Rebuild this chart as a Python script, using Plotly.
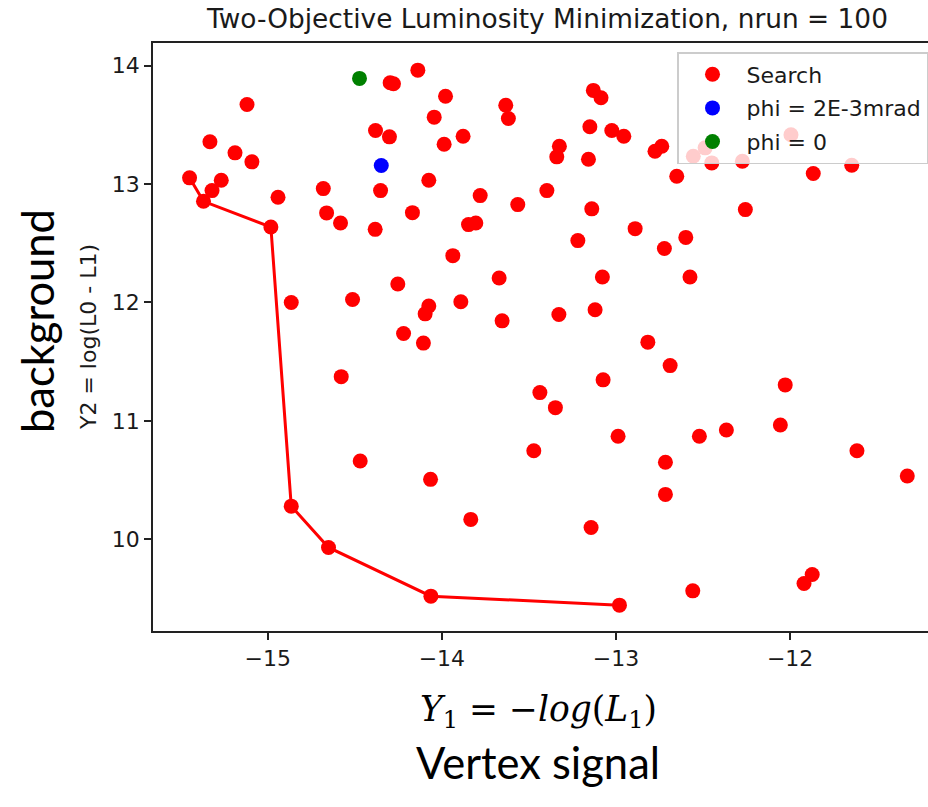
import plotly.graph_objects as go

# ---- data ----
search_x = [-15.119, -15.332, -15.188, -15.091, -15.449, -15.267, -15.320, -15.369, -14.941, -14.681,
            -14.352, -14.075, -14.662, -14.582, -14.383, -14.169, -14.982, -13.937, -14.253, -14.865,
            -14.513, -14.075, -14.096, -14.220, -14.106, -14.578, -14.469, -14.065, -14.865, -13.834,
            -14.651, -14.063, -14.278, -14.297, -14.138, -13.979, -14.044, -14.381, -14.301, -13.987,
            -13.878, -13.633, -13.618, -13.130, -13.086, -13.150, -13.024, -12.955, -13.325, -13.340,
            -13.158, -12.737, -12.776, -12.556, -12.488, -11.995, -12.450, -12.274, -11.867, -11.646,
            -12.651, -13.780, -13.564, -13.397, -13.139, -12.257, -13.847, -13.805, -12.890, -13.219,
            -12.599, -12.722, -13.671, -13.078, -12.575, -13.891, -13.654, -13.328, -13.120, -12.817,
            -12.689, -13.074, -12.028, -13.437, -13.348, -12.988, -12.521, -12.366, -12.056, -13.472,
            -11.616, -11.327, -12.716, -12.716, -12.980, -12.559, -11.920, -11.873, -13.143]
search_y = [13.671, 13.356, 13.263, 13.187, 13.052, 13.031, 12.944, 12.854, 12.888, 12.961,
            12.944, 13.031, 12.756, 12.671, 12.617, 12.758, 12.637, 12.395, 12.156, 12.000,
            12.025, 11.970, 11.904, 11.738, 11.657, 11.374, 10.662, 10.507, 10.281, 10.169,
            9.932, 9.521, 13.846, 13.855, 13.961, 13.741, 13.564, 13.451, 13.398, 13.336,
            13.403, 13.665, 13.553, 13.790, 13.728, 13.483, 13.451, 13.403, 13.319, 13.229,
            13.209, 13.319, 13.276, 13.234, 13.305, 13.415, 13.178, 13.192, 13.088, 13.158,
            13.065, 12.902, 12.826, 12.944, 12.790, 12.784, 12.657, 12.671, 12.623, 12.522,
            12.549, 12.456, 12.206, 12.215, 12.215, 12.006, 11.845, 11.899, 11.938, 11.665,
            11.467, 11.347, 11.304, 11.239, 11.112, 10.871, 10.871, 10.924, 10.966, 10.749,
            10.749, 10.535, 10.651, 10.380, 9.445, 9.566, 9.628, 9.704, 10.101]

pareto_x = [-15.449, -15.369, -14.982, -14.865, -14.651, -14.063, -12.980]
pareto_y = [13.052, 12.854, 12.637, 10.281, 9.932, 9.521, 9.445]

phi_2e3_x = [-14.348]
phi_2e3_y = [13.156]
phi_0_x = [-14.473]
phi_0_y = [13.891]

x_tickvals = [-15, -14, -13, -12]
x_ticktext = ["\u221215", "\u221214", "\u221213", "\u221212"]
y_tickvals = [10, 11, 12, 13, 14]
y_ticktext = ["10", "11", "12", "13", "14"]

W, H = 928, 807
ML, MR, MT, MB = 153, 0, 43, 176
PW, PH = W - ML - MR, H - MT - MB

fig = go.Figure()
fig.add_trace(go.Scatter(x=search_x, y=search_y, mode="markers", name="Search", legendgroup="a",
                         marker=dict(color="#ff0000", size=15, line=dict(width=0))))
fig.add_trace(go.Scatter(x=pareto_x, y=pareto_y, mode="lines", showlegend=False, legendgroup="a",
                         line=dict(color="#ff0000", width=3), hoverinfo="skip"))
fig.add_trace(go.Scatter(x=phi_2e3_x, y=phi_2e3_y, mode="markers", name="phi = 2E-3mrad", legendgroup="b",
                         marker=dict(color="#0000ff", size=15, line=dict(width=0))))
fig.add_trace(go.Scatter(x=phi_0_x, y=phi_0_y, mode="markers", name="phi = 0", legendgroup="c",
                         marker=dict(color="#008000", size=15, line=dict(width=0))))

axis_common = dict(showline=True, linecolor="#222", linewidth=1.6, ticks="outside",
                   ticklen=7, tickwidth=1.6, tickcolor="#222", showgrid=False,
                   zeroline=False, tickfont=dict(family="DejaVu Sans", size=22, color="#1a1a1a"))

fig.update_layout(
    width=W, height=H,
    margin=dict(l=ML, r=MR, t=MT, b=MB, pad=0),
    paper_bgcolor="white", plot_bgcolor="white",
    font=dict(family="DejaVu Sans", color="#1a1a1a"),
    title=dict(text="Two-Objective Luminosity Minimization, nrun = 100",
               font=dict(family="DejaVu Sans", size=26.4, color="#1a1a1a"),
               x=547.5 / W, xref="container", xanchor="center",
               y=1 - 19 / H, yref="container", yanchor="middle"),
    xaxis=dict(range=[-15.659, -11.208], tickvals=x_tickvals, ticktext=x_ticktext,
               mirror=True, **axis_common),
    yaxis=dict(range=[9.227, 14.19], tickvals=y_tickvals, ticktext=y_ticktext,
               mirror=False, **axis_common),
    legend=dict(x=(677 - ML) / PW, y=(H - MB - 52) / PH, xanchor="left", yanchor="top",
                bgcolor="rgba(255,255,255,0.8)", bordercolor="#cccccc", borderwidth=1.5,
                traceorder="grouped", tracegroupgap=2, itemwidth=58,
                font=dict(family="DejaVu Sans", size=22, color="#1a1a1a")),
    showlegend=True,
)

fig.add_annotation(text="background", xref="paper", yref="paper",
                   x=-(ML - 37) / PW, y=(H - MB - 321) / PH,
                   textangle=-90, showarrow=False, xanchor="center", yanchor="middle",
                   font=dict(family="Lato", size=43.5, color="black"))
fig.add_annotation(text="Y2 = log(L0 - L1)", xref="paper", yref="paper",
                   x=-(ML - 88) / PW, y=0.5,
                   textangle=-90, showarrow=False, xanchor="center", yanchor="middle",
                   font=dict(family="DejaVu Sans", size=22, color="#1a1a1a"))
fig.add_annotation(text="<i>Y</i><sub>1</sub> = \u2212<i>log</i>(<i>L</i><sub>1</sub>)",
                   xref="paper", yref="paper",
                   x=(538 - ML) / PW, y=(H - MB - 711) / PH,
                   showarrow=False, xanchor="center", yanchor="middle",
                   font=dict(family="DejaVu Serif", size=34.5, color="black"))
fig.add_annotation(text="Vertex signal", xref="paper", yref="paper",
                   x=(538 - ML) / PW, y=(H - MB - 762) / PH,
                   showarrow=False, xanchor="center", yanchor="middle",
                   font=dict(family="Lato", size=43.5, color="black"))

fig.write_html("out.html")
